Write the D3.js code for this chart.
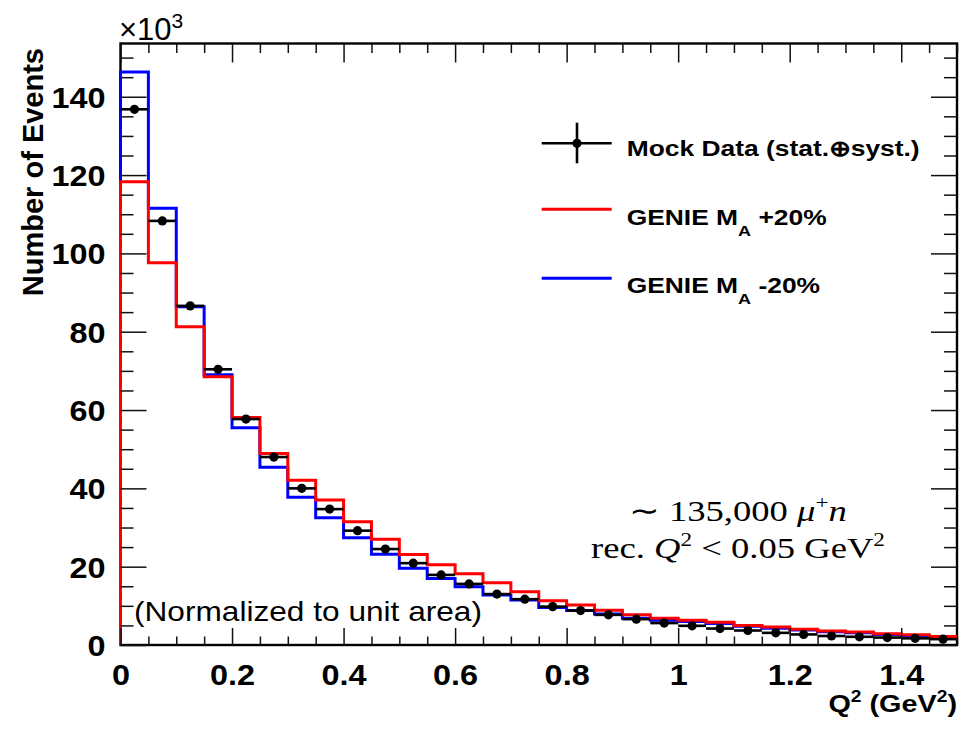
<!DOCTYPE html>
<html><head><meta charset="utf-8">
<script src="https://cdn.jsdelivr.net/npm/d3@7"></script>
<style>html,body{margin:0;padding:0;background:#fff;} svg{display:block;}</style>
</head><body>
<svg id="c" width="978" height="729"></svg>
<script>
// ---- data (units of 10^3 events) ----
const binEdges = [0,0.05,0.1,0.15,0.2,0.25,0.3,0.35,0.4,0.45,0.5,0.55,0.6,0.65,0.7,0.75,0.8,0.85,0.9,0.95,1.0,1.05,1.1,1.15,1.2,1.25,1.3,1.35,1.4,1.45,1.5];
const mockData = [136.8,108.3,86.6,70.4,57.7,48.0,40.0,34.7,29.2,24.5,20.9,17.9,15.6,13.0,11.7,9.8,8.8,7.7,6.6,5.6,4.9,4.2,3.7,3.1,2.7,2.3,2.1,1.9,1.7,1.5];
const mockErr  = [1.0,0.9,0.8,0.8,0.7,0.7,0.7,0.7,0.7,0.7,0.7,0.7,0.7,0.7,0.7,0.7,0.7,0.7,0.7,0.7,0.8,0.8,0.8,0.8,0.8,0.8,0.8,0.8,0.8,0.8];
const genieUp   = [118.3,97.6,81.3,68.5,58.1,48.9,42.1,37.0,31.5,27.0,23.1,20.5,18.2,15.9,13.6,11.3,10.2,8.9,7.7,6.8,6.3,5.8,5.0,4.6,4.0,3.6,3.3,2.9,2.6,2.2];
const genieDown = [146.3,111.5,86.4,69.0,55.5,45.4,37.7,32.5,27.4,23.2,19.6,17.0,14.9,12.8,11.5,9.6,8.8,7.9,6.8,6.3,6.0,5.5,4.8,4.3,3.8,3.4,3.1,2.7,2.4,2.0];
const xTickValues = [0,0.2,0.4,0.6,0.8,1,1.2,1.4];
const yTickValues = [0,20,40,60,80,100,120,140];
const legendLabels = ["Mock Data (stat.\u2295syst.)","GENIE M","GENIE M"];

// ---- layout ----
const svg = d3.select("#c");
const L = 120.5, R = 957, T = 43.5, B = 645;
const x = d3.scaleLinear().domain([0,1.5]).range([L,R]);
const y = d3.scaleLinear().domain([0,153.6]).range([B,T]);
const SANS = "'Liberation Sans', Arial, Helvetica, sans-serif";
const SERIF = "'Liberation Serif', 'Times New Roman', serif";

svg.append("rect").attr("width",978).attr("height",729).attr("fill","#fff");

// frame
svg.append("rect").attr("x",L).attr("y",T).attr("width",R-L).attr("height",B-T)
  .attr("fill","none").attr("stroke","#000").attr("stroke-width",2.4);

// histograms
function histPath(vals){
  const pts = [[binEdges[0],0]];
  vals.forEach((v,i)=>pts.push([binEdges[i],v]));
  pts.push([binEdges[binEdges.length-1], vals[vals.length-1]]);
  return d3.line().x(d=>x(d[0])).y(d=>y(d[1])).curve(d3.curveStepAfter)(pts);
}
svg.append("path").attr("d",histPath(genieDown)).attr("fill","none")
  .attr("stroke","#0000ff").attr("stroke-width",3);
svg.append("path").attr("d",histPath(genieUp)).attr("fill","none")
  .attr("stroke","#ff0000").attr("stroke-width",3);

// data points
const pts = svg.append("g");
mockData.forEach((v,i)=>{
  const xc = (binEdges[i]+binEdges[i+1])/2;
  pts.append("line").attr("x1",x(binEdges[i])).attr("x2",x(binEdges[i+1]))
    .attr("y1",y(v)).attr("y2",y(v)).attr("stroke","#000").attr("stroke-width",2.6);
  pts.append("line").attr("x1",x(xc)).attr("x2",x(xc))
    .attr("y1",y(v-mockErr[i])).attr("y2",y(v+mockErr[i])).attr("stroke","#000").attr("stroke-width",2);
  pts.append("circle").attr("cx",x(xc)).attr("cy",y(v)).attr("r",4.6).attr("fill","#000");
});

// axes (ticks inward, mirrored)
const fmt = d3.format("~g");
const xMinor = d3.range(0,1.5001,0.05).filter(v=>Math.abs(v/0.2-Math.round(v/0.2))>1e-6);
const yMinor = d3.range(0,153,5).filter(v=>v%20!==0);
function styleAxis(g){ g.select(".domain").remove(); g.selectAll(".tick line").attr("stroke","#111").attr("stroke-width",1.5); }

const gxb = svg.append("g").attr("transform",`translate(0,${B})`)
  .call(d3.axisBottom(x).tickValues(xTickValues).tickSize(-17).tickPadding(18.5).tickFormat(fmt));
styleAxis(gxb);
svg.append("g").attr("transform",`translate(0,${B})`)
  .call(d3.axisBottom(x).tickValues(xMinor).tickSize(-8.5).tickFormat("")).call(styleAxis);
svg.append("g").attr("transform",`translate(0,${T})`)
  .call(d3.axisTop(x).tickValues(xTickValues).tickSize(-19).tickFormat("")).call(styleAxis);
svg.append("g").attr("transform",`translate(0,${T})`)
  .call(d3.axisTop(x).tickValues(xMinor).tickSize(-9.5).tickFormat("")).call(styleAxis);

const gyl = svg.append("g").attr("transform",`translate(${L},0)`)
  .call(d3.axisLeft(y).tickValues(yTickValues).tickSize(-26).tickPadding(15).tickFormat(fmt));
styleAxis(gyl);
svg.append("g").attr("transform",`translate(${L},0)`)
  .call(d3.axisLeft(y).tickValues(yMinor).tickSize(-13).tickFormat("")).call(styleAxis);
svg.append("g").attr("transform",`translate(${R},0)`)
  .call(d3.axisRight(y).tickValues(yTickValues).tickSize(-26).tickFormat("")).call(styleAxis);
svg.append("g").attr("transform",`translate(${R},0)`)
  .call(d3.axisRight(y).tickValues(yMinor).tickSize(-13).tickFormat("")).call(styleAxis);

const TS = 1.08;
gxb.selectAll("text").attr("font-family",SANS).attr("font-weight","bold").attr("font-size",30)
  .attr("fill","#000").attr("transform",`scale(${TS},1)`);
gyl.selectAll("text").attr("font-family",SANS).attr("font-weight","bold").attr("font-size",30)
  .attr("fill","#000").attr("x",-15/TS).attr("dy","0.35em").attr("transform",`scale(${TS},1)`);

// helper for stretched text
function stext(px,py,sx,opts){
  return svg.append("text").attr("transform",`translate(${px},${py}) scale(${sx},1)`)
    .attr("font-family",opts.family||SANS).attr("font-size",opts.size)
    .attr("font-weight",opts.weight||"normal").attr("text-anchor",opts.anchor||"start").attr("fill","#000");
}

// exponent label
const ex = stext(119,40,1.0,{size:31});
ex.append("tspan").text("\u00d710");
ex.append("tspan").attr("font-size",21).attr("dy",-12).text("3");

// y title
svg.append("text").attr("transform","translate(43,48) rotate(-90)")
  .attr("font-family",SANS).attr("font-weight","bold").attr("font-size",29)
  .attr("text-anchor","end").text("Number of Events");

// x title
const xt = stext(957,712,1.2,{size:24,weight:"bold",anchor:"end"});
xt.append("tspan").text("Q");
xt.append("tspan").attr("font-size",16).attr("dy",-10).text("2");
xt.append("tspan").attr("dy",10).text(" (GeV");
xt.append("tspan").attr("font-size",16).attr("dy",-10).text("2");
xt.append("tspan").attr("dy",10).text(")");

// legend
const lx1 = 541.7, lx2 = 611.7;
svg.append("line").attr("x1",lx1).attr("x2",lx2).attr("y1",143.3).attr("y2",143.3).attr("stroke","#000").attr("stroke-width",2.6);
svg.append("line").attr("x1",577).attr("x2",577).attr("y1",122.7).attr("y2",163.3).attr("stroke","#000").attr("stroke-width",2.6);
svg.append("circle").attr("cx",577).attr("cy",143.3).attr("r",4.6).attr("fill","#000");
stext(626.7,156,1.2,{size:22,weight:"bold"}).text(legendLabels[0]);

svg.append("line").attr("x1",lx1).attr("x2",lx2).attr("y1",209.3).attr("y2",209.3).attr("stroke","#ff0000").attr("stroke-width",3);
const l2 = stext(626.7,225,1.2,{size:22,weight:"bold"});
l2.append("tspan").text(legendLabels[1]);
l2.append("tspan").attr("font-size",15).attr("dy",11).text("A");
l2.append("tspan").attr("dy",-11).text(" +20%");

svg.append("line").attr("x1",lx1).attr("x2",lx2).attr("y1",278.3).attr("y2",278.3).attr("stroke","#0000ff").attr("stroke-width",3);
const l3 = stext(626.7,293.3,1.2,{size:22,weight:"bold"});
l3.append("tspan").text(legendLabels[2]);
l3.append("tspan").attr("font-size",15).attr("dy",11).text("A");
l3.append("tspan").attr("dy",-11).text(" -20%");

// annotations
const a1 = stext(738,521,1.22,{size:30,family:SERIF,anchor:"middle"});
a1.append("tspan").text("\u223c 135,000 ");
a1.append("tspan").attr("font-style","italic").text("\u03bc");
a1.append("tspan").attr("font-size",19).attr("dy",-12).text("+");
a1.append("tspan").attr("font-style","italic").attr("dy",12).text("n");

const a2 = stext(738,558,1.22,{size:30,family:SERIF,anchor:"middle"});
a2.append("tspan").text("rec.  ");
a2.append("tspan").attr("font-style","italic").text("Q");
a2.append("tspan").attr("font-size",19).attr("dy",-12).text("2");
a2.append("tspan").attr("dy",12).text(" < 0.05 GeV");
a2.append("tspan").attr("font-size",19).attr("dy",-12).text("2");

stext(134,621,1.13,{size:28}).text("(Normalized to unit area)");
</script>
</body></html>
